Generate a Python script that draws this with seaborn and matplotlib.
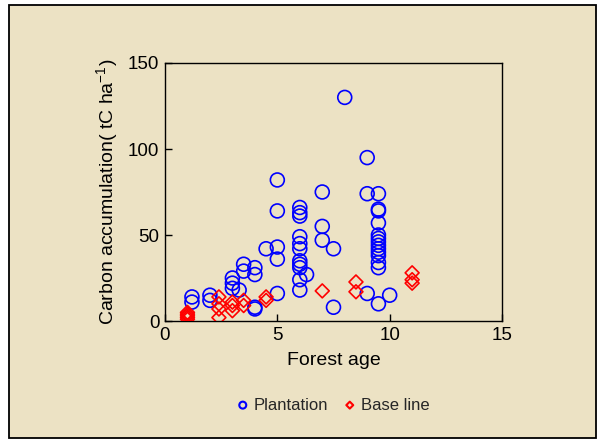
import matplotlib
matplotlib.use("Agg")
import matplotlib.pyplot as plt
import matplotlib.patches as mpatches
import seaborn as sns
import pandas as pd

plantation_age = [1.2, 1.2, 2, 2, 3, 3, 3, 3.3, 3.5, 3.5, 4, 4, 4, 4, 4.5,
                  5, 5, 5, 5, 5,
                  6, 6, 6, 6, 6, 6, 6, 6, 6, 6, 6, 6.3,
                  7, 7, 7, 7.5, 7.5, 8, 9, 9, 9,
                  9.5, 9.5, 9.5, 9.5, 9.5, 9.5, 9.5, 9.5, 9.5, 9.5, 9.5, 9.5, 9.5, 9.5,
                  10]
plantation_carbon = [14, 11, 15, 12, 25, 22, 19, 18, 33, 29, 31, 27, 8, 7, 42,
                     82, 64, 43, 36, 16,
                     66, 63, 61, 49, 45, 42, 35, 33, 31, 24, 18, 27,
                     75, 55, 47, 42, 8, 130, 95, 74, 16,
                     74, 65, 64, 57, 50, 48, 46, 44, 42, 40, 38, 34, 31, 10,
                     15]

baseline_age = [1, 1, 1, 1, 1, 2.4, 2.4, 2.4, 2.4, 3, 3, 3, 3.5, 3.5,
                4.5, 4.5, 7, 8.5, 8.5, 11, 11, 11]
baseline_carbon = [1, 2, 3, 4, 5, 14, 10, 7, 2, 11, 9, 6, 12, 9,
                   14, 12, 17.5, 22.7, 17, 28, 24, 22]

x_ticks = [0, 5, 10, 15]
y_ticks = [0, 50, 100, 150]

sns.set_theme(style="white")
plt.rcParams["font.family"] = ["Liberation Sans", "DejaVu Sans"]
plt.rcParams["mathtext.default"] = "regular"

bg = "#ECE2C4"
fig = plt.figure(figsize=(6.03, 4.40), dpi=100, facecolor="white")
frame = mpatches.Rectangle((9 / 603, 2 / 440), (596 - 9) / 603, (438 - 5) / 440,
                           transform=fig.transFigure, facecolor=bg,
                           edgecolor="black", linewidth=1.3, zorder=-10)
fig.patches.append(frame)

ax = fig.add_axes([165 / 603, 1 - 321 / 440, (502 - 165) / 603, (321 - 63) / 440])
ax.set_facecolor("none")

df_p = pd.DataFrame({"age": plantation_age, "carbon": plantation_carbon})
df_b = pd.DataFrame({"age": baseline_age, "carbon": baseline_carbon})

sns.scatterplot(data=df_p, x="age", y="carbon", marker="o", s=100,
                facecolor="none", edgecolor="#0000FF", linewidth=1.2,
                label="Plantation", ax=ax, zorder=3)
sns.scatterplot(data=df_b, x="age", y="carbon", marker="D", s=50,
                facecolor="none", edgecolor="#FF0000", linewidth=1.2,
                label="Base line", ax=ax, zorder=4)

ax.set_xlim(0, 15)
ax.set_ylim(0, 150)
ax.set_xticks(x_ticks)
ax.set_yticks(y_ticks)
ax.tick_params(direction="in", length=5, width=1, colors="black",
               labelsize=13.5, bottom=True, left=True, pad=4)
for sp in ax.spines.values():
    sp.set_color("black")
    sp.set_linewidth(1.0)
    sp.set_visible(True)

ax.set_xlabel("Forest age", fontsize=14, color="black", labelpad=6)
ax.set_ylabel("Carbon accumulation( tC ha$^{-1}$)", fontsize=14, color="black", labelpad=6)

leg = ax.legend(loc="center", bbox_to_anchor=(0.5, (1 - 405 / 440 - (1 - 321 / 440)) / ((321 - 63) / 440)),
                ncol=2, frameon=False, fontsize=12, markerscale=0.5,
                handlelength=0.6, handletextpad=0.35, columnspacing=1.0, borderaxespad=0)
for h in leg.legend_handles:
    h.set_linewidth(1.5)

fig.savefig("out.png", dpi=100, facecolor=fig.get_facecolor())
